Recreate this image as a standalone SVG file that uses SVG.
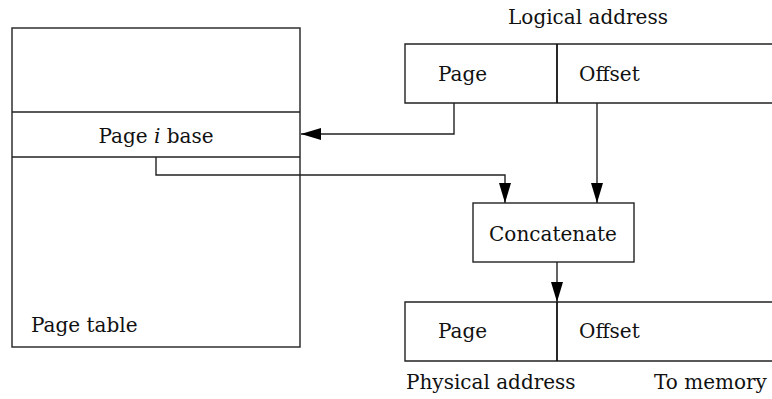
<svg xmlns="http://www.w3.org/2000/svg" width="772" height="399" viewBox="0 0 772 399">
<style>
.box{fill:#fff;stroke:#222;stroke-width:1.4}
.ln{fill:none;stroke:#222;stroke-width:1.4}
.dv{stroke:#111;stroke-width:1.8}
text{font-family:"DejaVu Serif","Liberation Serif",serif;font-size:20px;fill:#111}
</style>
<defs>
<marker id="a" viewBox="0 0 20 12" refX="20" refY="6" markerWidth="20" markerHeight="12" orient="auto" markerUnits="userSpaceOnUse">
<path d="M0,0 L20,6 L0,12 Z" fill="#000"/>
</marker>
</defs>
<rect width="772" height="399" fill="#fff"/>
<g id="page-table">
<rect class="box" x="12" y="28" width="288" height="319"/>
<line class="ln" x1="12" y1="112" x2="300" y2="112"/>
<line class="ln" x1="12" y1="157" x2="300" y2="157"/>
<text x="156" y="143" text-anchor="middle">Page <tspan font-style="italic">i</tspan> base</text>
<text x="31" y="332">Page table</text>
</g>
<g id="logical-address">
<text x="588" y="24" text-anchor="middle">Logical address</text>
<path class="box" d="M772,44 H405 V103 H772"/>
<line class="dv" x1="557" y1="44" x2="557" y2="103"/>
<text x="438" y="81">Page</text>
<text x="579" y="81">Offset</text>
</g>
<g id="concatenate">
<rect class="box" x="473" y="203" width="161" height="59"/>
<text x="553" y="241" text-anchor="middle">Concatenate</text>
</g>
<g id="physical-address">
<path class="box" d="M772,302 H405 V361 H772"/>
<line class="dv" x1="557" y1="302" x2="557" y2="361"/>
<text x="438" y="338">Page</text>
<text x="579" y="338">Offset</text>
<text x="406" y="389">Physical address</text>
<text x="654" y="389">To memory</text>
</g>
<g id="connectors">
<path class="ln" d="M454,103 V134 H301" marker-end="url(#a)"/>
<path class="ln" d="M156,157 V175 H505 V203" marker-end="url(#a)"/>
<path class="ln" d="M597,103 V203" marker-end="url(#a)"/>
<path class="ln" d="M557,262 V302" marker-end="url(#a)"/>
</g>
</svg>
